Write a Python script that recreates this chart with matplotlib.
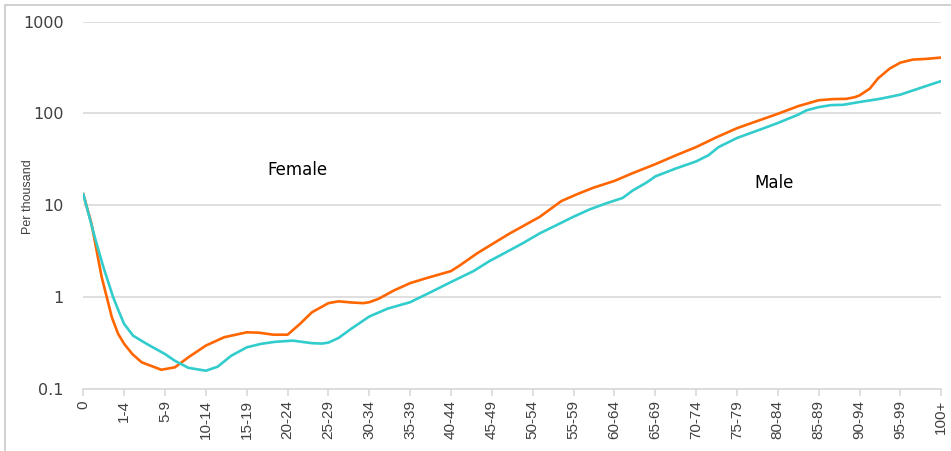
import matplotlib
matplotlib.use("Agg")
import matplotlib.pyplot as plt
from matplotlib.patches import Rectangle

# Age groups on the x axis
age_labels = ["0", "1-4", "5-9", "10-14", "15-19", "20-24", "25-29", "30-34",
              "35-39", "40-44", "45-49", "50-54", "55-59", "60-64", "65-69",
              "70-74", "75-79", "80-84", "85-89", "90-94", "95-99", "100+"]

# Orange line (higher rates), position in age-group units, rate per thousand
pos_orange = [0, 0.2, 0.45, 0.7, 0.85, 1.0, 1.2, 1.43, 1.91, 2.24, 2.57, 3.0,
              3.45, 4.0, 4.3, 4.65, 5.0, 5.3, 5.6, 6.0, 6.25, 6.55, 6.85, 7.0,
              7.23, 7.6, 8.0, 8.4, 9.0, 9.22, 9.63, 10.03, 10.44, 10.85, 11.17,
              11.42, 11.7, 12.07, 12.48, 13.0, 13.45, 14.0, 14.5, 15.0, 15.5,
              16.0, 16.5, 17.0, 17.5, 18.0, 18.35, 18.68, 18.88, 19.0, 19.25,
              19.45, 19.74, 20.0, 20.3, 20.6, 21.0]
rate_orange = [13.2, 6.3, 1.65, 0.60, 0.40, 0.31, 0.24, 0.195, 0.162, 0.172,
               0.221, 0.297, 0.366, 0.414, 0.41, 0.39, 0.39, 0.51, 0.686, 0.86,
               0.90, 0.875, 0.86, 0.88, 0.96, 1.18, 1.42, 1.61, 1.92, 2.22,
               2.98, 3.83, 4.94, 6.23, 7.47, 9.0, 11.1, 13.1, 15.5, 18.4, 22.4,
               28.0, 34.9, 43.0, 55, 69, 82.7, 99, 120, 139, 143, 144, 150, 157,
               186, 240, 308, 357, 385, 391, 405]

# Turquoise line
pos_teal = [0, 0.28, 0.49, 0.73, 0.88, 1.0, 1.22, 1.55, 2.0, 2.24, 2.57, 3.0,
            3.29, 3.62, 4.0, 4.35, 4.69, 5.13, 5.6, 5.84, 6.0, 6.25, 6.55, 7.0,
            7.45, 8.0, 8.5, 9.0, 9.55, 9.95, 10.36, 10.77, 11.17, 11.58, 11.99,
            12.39, 12.8, 13.2, 13.45, 13.78, 14.0, 14.5, 15.0, 15.3, 15.55,
            16.0, 16.5, 17.0, 17.5, 17.7, 18.0, 18.3, 18.6, 19.0, 19.5, 20.0,
            20.5, 21.0]
rate_teal = [13.2, 4.5, 2.13, 1.0, 0.68, 0.51, 0.38, 0.31, 0.24, 0.203, 0.17,
             0.158, 0.175, 0.23, 0.284, 0.31, 0.326, 0.336, 0.315, 0.312, 0.32,
             0.36, 0.45, 0.615, 0.75, 0.88, 1.13, 1.46, 1.92, 2.48, 3.10, 3.89,
             4.94, 6.07, 7.47, 9.0, 10.5, 12.0, 14.5, 17.6, 20.6, 25.1, 30.0,
             35, 43, 54, 65, 78.6, 97, 108, 117, 123, 124, 133, 144, 160, 190,
             225]

y_ticks = [0.1, 1, 10, 100, 1000]
y_tick_labels = ["0.1", "1", "10", "100", "1000"]

narrow = ["Liberation Sans", "DejaVu Sans"]
grid_col = "#d9d9d9"

fig = plt.figure(figsize=(9.51, 4.51), dpi=100)
ax = fig.add_axes([0.0876, 0.1375, 0.9022, 0.8148])

# outer chart border
fig.patches.append(Rectangle((5 / 951, -0.1), 1.2, 1 - 5 / 451 + 0.1,
                             transform=fig.transFigure, fill=False,
                             edgecolor="#c8c8c8", linewidth=1.2))

ax.plot(pos_orange, rate_orange, color="#ff6600", linewidth=1.9,
        solid_joinstyle="round")
ax.plot(pos_teal, rate_teal, color="#33cccc", linewidth=1.9,
        solid_joinstyle="round")

ax.set_yscale("log")
ax.set_ylim(0.1, 1000)
ax.set_xlim(0, 21)
ax.set_yticks(y_ticks)
ax.set_yticklabels(y_tick_labels, fontsize=11.5, color="#404040")
ax.minorticks_off()
ax.set_xticks(range(len(age_labels)))
ax.set_xticklabels(age_labels, rotation=90, fontsize=11, color="#404040",
                   family=narrow)

ax.tick_params(axis="y", length=0, pad=14)
ax.tick_params(axis="x", length=5, color=grid_col, width=1.2, pad=3)

for s in ["top", "right", "left"]:
    ax.spines[s].set_visible(False)
ax.spines["bottom"].set_color(grid_col)
ax.spines["bottom"].set_linewidth(1.2)

ax.yaxis.grid(True, color=grid_col, linewidth=1.2)
ax.set_axisbelow(True)

ax.text(5.25, 24.3, "Female", fontsize=12, ha="center", va="center")
ax.text(16.9, 17.5, "Male", fontsize=12, ha="center", va="center")

fig.text(28 / 951, 1 - 197 / 451, "Per thousand", rotation=90, fontsize=9,
         ha="center", va="center", color="#404040", family=narrow)

fig.savefig("out.png", dpi=100)
